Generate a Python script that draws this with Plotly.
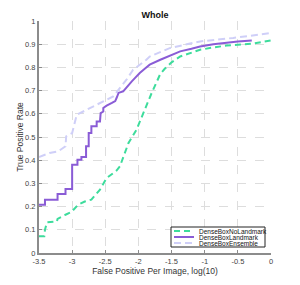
import plotly.graph_objects as go

# ---------------- data ----------------
no_landmark_x = [-3.5, -3.42, -3.41, -3.38, -3.23, -3.22, -3.1, -3.01, -2.91, -2.81, -2.71,
                 -2.58, -2.48, -2.33, -2.28, -2.2, -2.15, -2.03, -1.93, -1.8, -1.72, -1.67,
                 -1.6, -1.5, -1.37, -1.2, -1.07, -0.87, -0.67, -0.29, 0.0]
no_landmark_y = [0.072, 0.072, 0.10, 0.132, 0.136, 0.147, 0.165, 0.177, 0.208, 0.222, 0.23,
                 0.273, 0.323, 0.355, 0.373, 0.43, 0.474, 0.531, 0.603, 0.69, 0.74, 0.772,
                 0.795, 0.822, 0.847, 0.865, 0.876, 0.886, 0.894, 0.902, 0.916]

landmark_x = [-3.5, -3.41, -3.41, -3.22, -3.22, -3.1, -3.1, -3.0, -3.0, -2.92, -2.92,
              -2.86, -2.86, -2.79, -2.79, -2.75, -2.75, -2.71, -2.71, -2.63, -2.63, -2.58,
              -2.57, -2.53, -2.53, -2.48, -2.4, -2.35, -2.33, -2.3, -2.23, -2.18, -2.15,
              -2.1, -2.05, -1.98, -1.9, -1.83, -1.67, -1.5, -1.37, -1.2, -1.07, -0.87,
              -0.67, -0.5, -0.29]
landmark_y = [0.208, 0.208, 0.23, 0.23, 0.254, 0.254, 0.276, 0.276, 0.38, 0.38, 0.402,
              0.402, 0.414, 0.414, 0.46, 0.46, 0.517, 0.517, 0.546, 0.546, 0.567, 0.567,
              0.603, 0.61, 0.625, 0.635, 0.647, 0.655, 0.668, 0.69, 0.697, 0.715, 0.725,
              0.74, 0.755, 0.776, 0.795, 0.812, 0.833, 0.855, 0.869, 0.88, 0.89, 0.9,
              0.908, 0.912, 0.916]

ensemble_x = [-3.5, -3.34, -3.21, -3.1, -3.09, -3.0, -2.93, -2.78, -2.58, -2.38, -2.18,
              -2.08, -1.88, -1.83, -1.52, -1.07, -0.57, 0.0]
ensemble_y = [0.414, 0.431, 0.438, 0.46, 0.503, 0.517, 0.596, 0.618, 0.647, 0.675, 0.747,
              0.79, 0.833, 0.847, 0.884, 0.912, 0.927, 0.948]

series_names = ["DenseBoxNoLandmark", "DenseBoxLandmark", "DenseBoxEnsemble"]
series_colors = ["#3ddc9c", "#8a5cd6", "#cfcff8"]

x_ticks = [-3.5, -3, -2.5, -2, -1.5, -1, -0.5, 0]
x_tick_labels = ["-3.5", "-3", "-2.5", "-2", "-1.5", "-1", "-0.5", "0"]
y_ticks = [0, 0.1, 0.2, 0.3, 0.4, 0.5, 0.6, 0.7, 0.8, 0.9, 1]
y_tick_labels = ["0", "0.1", "0.2", "0.3", "0.4", "0.5", "0.6", "0.7", "0.8", "0.9", "1"]

# ---------------- figure ----------------
OFF = 8  # default page body margin
W, H = 300 - OFF, 285 - OFF
PL, PR, PT, PB = 39, 271, 21, 253  # plot box in window pixels
ML, MR, MT, MB = PL - OFF, W - (PR - OFF), PT - OFF, H - (PB - OFF)
PW, PH = PR - PL, PB - PT

def px_x(p):
    return (p - PL) / PW

def px_y(p):
    return (PB - p) / PH

FONT = "Liberation Sans, Arial, sans-serif"

fig = go.Figure()
fig.add_trace(go.Scatter(x=ensemble_x, y=ensemble_y, mode="lines", name=series_names[2],
                         line=dict(color=series_colors[2], width=2, dash="7px,4px")))
fig.add_trace(go.Scatter(x=no_landmark_x, y=no_landmark_y, mode="lines", name=series_names[0],
                         line=dict(color=series_colors[0], width=2, dash="6px,4px")))
fig.add_trace(go.Scatter(x=landmark_x, y=landmark_y, mode="lines", name=series_names[1],
                         line=dict(color=series_colors[1], width=2)))

fig.update_layout(
    width=W, height=H,
    margin=dict(l=ML, r=MR, t=MT, b=MB, pad=0, autoexpand=False),
    paper_bgcolor="white", plot_bgcolor="white",
    showlegend=False,
    font=dict(family=FONT, size=8, color="#444"),
    title=dict(text="<b>Whole</b>", x=px_x(155), xanchor="center", xref="paper",
               y=1 - (15 - OFF) / H, yanchor="middle",
               font=dict(size=9, color="#111", family=FONT)),
)

fig.update_xaxes(
    range=[-3.5, 0], tickvals=x_ticks, ticktext=x_tick_labels,
    showgrid=True, gridcolor="#dddddd", griddash="dash", gridwidth=1,
    showline=True, linecolor="#8c8c8c", linewidth=2,
    ticks="inside", ticklen=3, tickcolor="#8c8c8c",
    tickfont=dict(size=7.5, color="#444"), automargin=False,
    title=dict(text="False Positive Per Image, log(10)", standoff=1,
               font=dict(size=8.5, color="#333")),
    zeroline=False, fixedrange=True,
)
fig.update_yaxes(
    range=[0, 1], tickvals=y_ticks, ticktext=y_tick_labels,
    showgrid=True, gridcolor="#dddddd", griddash="dash", gridwidth=1,
    showline=True, linecolor="#8c8c8c", linewidth=2,
    ticks="inside", ticklen=3, tickcolor="#8c8c8c",
    tickfont=dict(size=7.5, color="#444"), automargin=False,
    title=dict(text="True Positive Rate", standoff=0, font=dict(size=8.5, color="#333")),
    zeroline=False, fixedrange=True,
)

# ---------------- custom compact legend ----------------
lx0, lx1, ly0, ly1 = 171, 265, 227, 247
fig.add_shape(type="rect", xref="paper", yref="paper",
              x0=px_x(lx0), x1=px_x(lx1), y0=px_y(ly1), y1=px_y(ly0),
              line=dict(color="#222", width=1), fillcolor="white", layer="above")
rows = [231, 237, 243]
legend_dash = ["6px,4px", "solid", "7px,4px"]
for name, color, dash, ry in zip(series_names, series_colors, legend_dash, rows):
    fig.add_shape(type="line", xref="paper", yref="paper",
                  x0=px_x(174), x1=px_x(194), y0=px_y(ry), y1=px_y(ry),
                  line=dict(color=color, width=2, dash=dash), layer="above")
    fig.add_annotation(xref="paper", yref="paper", x=px_x(197), y=px_y(ry),
                       text=name, showarrow=False, xanchor="left", yanchor="middle",
                       font=dict(size=6.5, color="#111", family=FONT))

fig.write_html("out.html")
